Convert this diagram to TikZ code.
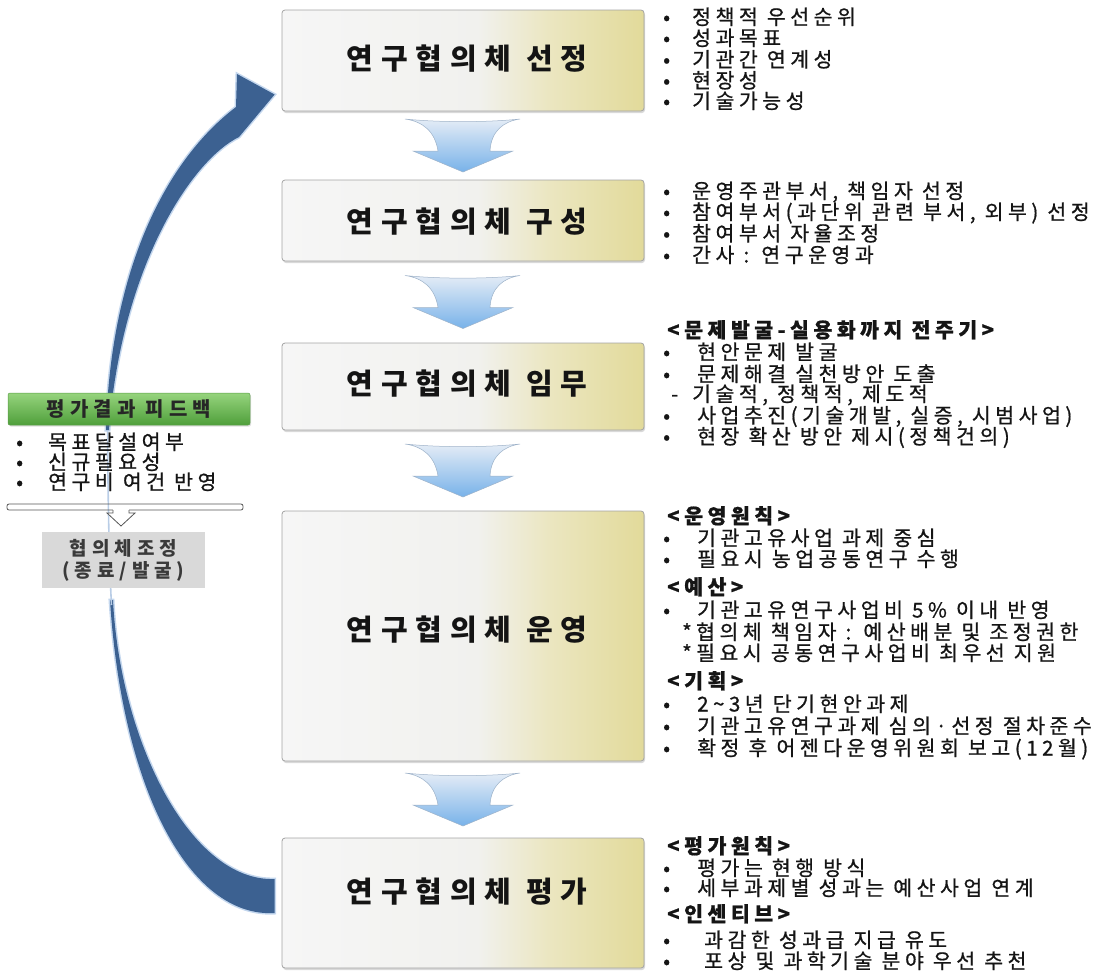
\documentclass[tikz,border=0pt]{standalone}
\usepackage{fontspec}
\usetikzlibrary{calc,shadows}

\newfontfamily\bodyfont[LetterSpace=22, FakeBold=0.8]{Noto Sans CJK KR}
\newfontfamily\plainfont[LetterSpace=26]{Noto Sans CJK KR}
\newfontfamily\titlefont[LetterSpace=27]{Noto Sans CJK KR}

\definecolor{arrowblue}{HTML}{3C6191}
\definecolor{glow}{HTML}{C4D7EE}
\definecolor{thinglow}{HTML}{B9CDE6}
\definecolor{bxA}{HTML}{F6F6F6}
\definecolor{bxB}{HTML}{F1F1EE}
\definecolor{bxC}{HTML}{EBE6C0}
\definecolor{bxD}{HTML}{E2DA9A}
\definecolor{boxline}{HTML}{A3A3A3}
\definecolor{titletext}{HTML}{141414}
\definecolor{bodytext}{HTML}{151515}
\definecolor{greentop}{HTML}{96D47D}
\definecolor{greenbot}{HTML}{4F9F3B}
\definecolor{greenline}{HTML}{5A9C47}
\definecolor{adjgray}{HTML}{D9D9D9}
\definecolor{adjtext}{HTML}{3A3A3A}
\definecolor{flowtop}{HTML}{E4ECF6}
\definecolor{flowbot}{HTML}{78B2E9}
\definecolor{flowedge}{HTML}{9FB3C9}
\definecolor{panelline}{HTML}{555555}

% white on the left, pale khaki towards the right edge of each stage box
\pgfdeclarehorizontalshading{boxshade}{100bp}{color(0bp)=(bxA); color(25bp)=(bxA); color(52bp)=(bxB); color(62bp)=(bxC); color(75bp)=(bxD); color(100bp)=(bxD)}

% one bulleted text line: name, x, baseline y, bullet box width, text
\newcommand\rowitem[5]{\node[bodytxt] (#1) at (#2,#3) {\makebox[#4pt][l]{•}#5};}
% one text line with another leading mark
\newcommand\markitem[6]{\node[bodytxt] (#1) at (#2,#3) {\makebox[#4pt][l]{#5}#6};}

\begin{document}
\begin{tikzpicture}[x=1pt, y=-1pt,
  stepbox/.style={shade, shading=boxshade, draw=boxline, line width=0.8pt,
    rounded corners=3pt, minimum width=362pt, inner sep=0pt,
    drop shadow={shadow xshift=1pt, shadow yshift=-2pt, opacity=0.3}},
  boxtitle/.style={font=\titlefont\bfseries\fontsize{29}{31}\selectfont,
    text=titletext, inner sep=0pt},
  bodytxt/.style={font=\bodyfont\fontsize{20.5}{22}\selectfont, text=bodytext,
    inner sep=0pt, anchor=base west},
  headtxt/.style={bodytxt, font=\bodyfont\bfseries\fontsize{20.5}{22}\selectfont},
  greenbox/.style={top color=greentop, bottom color=greenbot, draw=greenline,
    line width=0.5pt, rounded corners=2pt, minimum width=242pt, minimum height=32pt,
    inner sep=0pt, font=\plainfont\bfseries\fontsize{20}{22}\selectfont,
    text=black!85,
    drop shadow={shadow xshift=1pt, shadow yshift=-1.5pt, opacity=0.25}},
  adjbox/.style={fill=adjgray, minimum width=163pt, minimum height=56pt,
    inner sep=0pt, align=center, text=adjtext,
    font=\plainfont\bfseries\fontsize{19}{22}\selectfont},
  flowarrow/.pic={
    \shade[top color=flowtop, bottom color=flowbot, draw=flowedge, line width=0.5pt]
      (-58,-26.5) .. controls (-25,-23) and (25,-23) .. (57,-26.5)
      .. controls (40,-24) and (28,-14) .. (27,5.5)
      -- (50,5.5) -- (0,26.5) -- (-50,5.5) -- (-25,5.5)
      .. controls (-28,-14) and (-40,-24) .. cycle;
  }
]
\useasboundingbox (0,0) rectangle (1097,972);

% ---------------- stage boxes ----------------
\node[stepbox, minimum height=101pt] (s1) at (463,60.5) {};
\node[stepbox, minimum height=81pt]  (s2) at (463,220.5) {};
\node[stepbox, minimum height=87pt]  (s3) at (463,386.5) {};
\node[stepbox, minimum height=250pt] (s4) at (463,636) {};
\node[stepbox, minimum height=130pt] (s5) at (463,903) {};

\node[boxtitle] (t1) at ($(s1.center)+(4,-1.5)$) {연구협의체 선정};
\node[boxtitle] (t2) at ($(s2.center)+(4,1)$)    {연구협의체 구성};
\node[boxtitle] (t3) at ($(s3.center)+(4,-3)$)   {연구협의체 임무};
\node[boxtitle] (t4) at ($(s4.center)+(4,-6)$)   {연구협의체 운영};
\node[boxtitle] (t5) at ($(s5.center)+(4,-11)$)  {연구협의체 평가};

% ---------------- arrows between stages ----------------
\foreach \a/\b in {s1/s2, s2/s3, s3/s4, s4/s5}
  \pic at ($(\a.south)!0.5!(\b.north)$) {flowarrow};

% ---------------- feedback loop arrow ----------------
% lower, thick part leaving the evaluation box
\path[fill=arrowblue, preaction={draw=glow, line width=3pt}]
  ($(s5.west)+(-7,10)$)
  .. controls (190,918) and (122,790) .. (110,600)
  -- (113,600)
  .. controls (120,740) and (190,882) .. ($(s5.west)+(-7,-24)$)
  -- cycle;
% faint thin middle run behind the feedback panel
\draw[thinglow, line width=1.6pt] (107.5,425) .. controls (108,500) and (109,560) .. (111.5,605);
% upper part with the head pointing at the selection box
\path[fill=arrowblue, preaction={draw=glow, line width=3pt}]
  (106,430) .. controls (110,280) and (160,165) .. (236,107)
  -- (237,74) -- ($(s1.west)+(-7,34)$)
  -- (239,137)
  .. controls (192,160) and (122,265) .. (109,430) -- cycle;

% ---------------- feedback panel ----------------
\node[greenbox] (fb) at (129,409) {평가결과 피드백};
\rowitem{fb1}{16}{449.5}{32}{목표달설여부}
\rowitem{fb2}{16}{469.5}{32}{신규필요성}
\rowitem{fb3}{16}{489.5}{32}{연구비 여건 반영}

\draw[panelline, line width=0.8pt, rounded corners=2pt] (7,504) rectangle (243,510);
\fill[white] (113.4,508) rectangle (128.6,511.5);
\draw[panelline, line width=0.8pt, fill=white, line join=miter]
  (113,510) -- (113,513) -- (107,513) -- (121,526) -- (135,513) -- (129,513) -- (129,510);

\node[adjbox] (adj) at (123.5,560) {협의체조정\\(종료/발굴)};

% ---------------- notes: selection ----------------
\rowitem{a1}{663}{24.5}{29}{정책적 우선순위}
\rowitem{a2}{663}{45.5}{29}{성과목표}
\rowitem{a3}{663}{67}{29}{기관간 연계성}
\rowitem{a4}{663}{88}{29}{현장성}
\rowitem{a5}{663}{108.5}{29}{기술가능성}

% ---------------- notes: composition ----------------
\rowitem{b1}{663}{198.5}{29}{운영주관부서, 책임자 선정}
\rowitem{b2}{663}{219.5}{29}{참여부서(과단위 관련 부서, 외부) 선정}
\rowitem{b3}{663}{241}{29}{참여부서 자율조정}
\rowitem{b4}{663}{262.5}{29}{간사 : 연구운영과}

% ---------------- notes: duties ----------------
\node[headtxt] (c0) at (667,337.5) {<문제발굴-실용화까지 전주기>};
\rowitem{c1}{663}{359.5}{34}{현안문제 발굴}
\rowitem{c2}{663}{381.5}{34}{문제해결 실천방안 도출}
\markitem{c3}{671}{401.5}{21}{-}{기술적, 정책적, 제도적}
\rowitem{c4}{663}{423}{34}{사업추진(기술개발, 실증, 시범사업)}
\rowitem{c5}{663}{444}{34}{현장 확산 방안 제시(정책건의)}

% ---------------- notes: operation ----------------
\node[headtxt] (d0) at (667,523.5) {<운영원칙>};
\rowitem{d1}{663}{545.5}{34}{기관고유사업 과제 중심}
\rowitem{d2}{663}{566.5}{34}{필요시 농업공동연구 수행}
\node[headtxt] (d3) at (667,594.5) {<예산>};
\rowitem{d4}{663}{617.5}{34}{기관고유연구사업비 5\% 이내 반영}
\markitem{d5}{682}{639.5}{14}{*}{협의체 책임자 : 예산배분 및 조정권한}
\markitem{d6}{682}{660.5}{14}{*}{필요시 공동연구사업비 최우선 지원}
\node[headtxt] (d7) at (667,688.5) {<기획>};
\rowitem{d8}{663}{711.5}{34}{2\textasciitilde 3년 단기현안과제}
\rowitem{d9}{663}{733.5}{34}{기관고유연구과제 심의·선정 절차준수}
\rowitem{d10}{663}{755.5}{34}{확정 후 어젠다운영위원회 보고(12월)}

% ---------------- notes: evaluation ----------------
\node[headtxt] (e0) at (667,853.5) {<평가원칙>};
\rowitem{e1}{663}{875.5}{34}{평가는 현행 방식}
\rowitem{e2}{663}{895.5}{34}{세부과제별 성과는 예산사업 연계}
\node[headtxt] (e3) at (667,921.5) {<인센티브>};
\rowitem{e4}{663}{947.5}{41}{과감한 성과급 지급 유도}
\rowitem{e5}{663}{968.5}{41}{포상 및 과학기술 분야 우선 추천}
\end{tikzpicture}
\end{document}
